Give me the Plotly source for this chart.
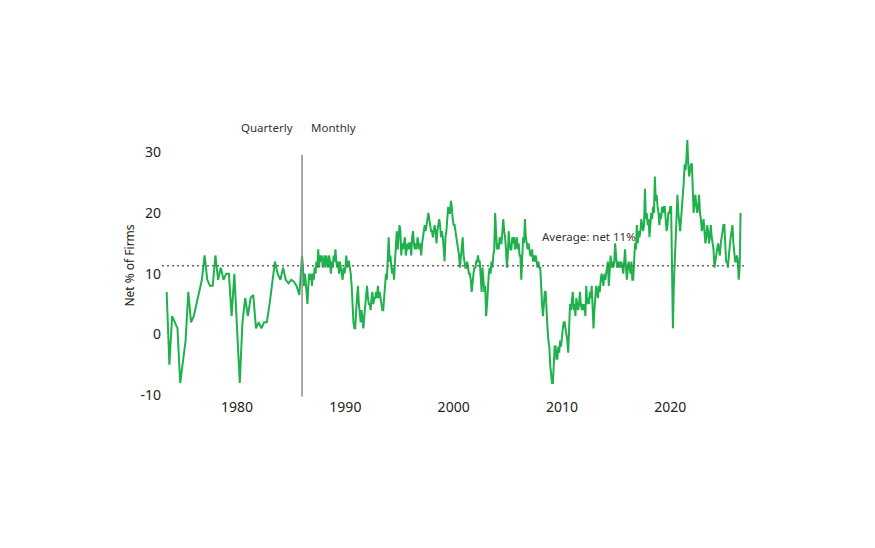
import pandas as pd
import plotly.graph_objects as go

# quarterly survey, Q3 1973 .. Q4 1985 (net % of firms)
QUARTERLY = [7, -5, 3, 2, 1, -8, -4, -1, 7, 2,
             3, 5, 7, 9, 13, 9, 8, 8, 13, 9,
             11, 9, 10, 10, 3, 10, 1, -8, 2, 6,
             3, 6, 6.5, 1, 2, 1, 2, 2, 5, 9,
             12, 10, 9, 11, 9, 8.4, 9, 8.7, 8, 6.5]

# monthly survey from Jan 1986, one row per year
MONTHLY_1986_1995 = [
    13, 11, 8, 10, 9, 7, 5, 8, 10, 9, 10, 8,
    10, 9, 11, 10, 12, 11, 14, 11, 13, 12, 13, 11,
    12, 13, 11, 13, 12, 11, 13, 12, 10, 12, 11, 13,
    12, 14, 12, 11, 12, 10, 12, 11, 10, 9, 11, 10,
    11, 13, 11, 12, 12, 11, 10, 8, 4, 2, 1, 1,
    4, 6, 8, 5, 3, 2, 4, 2, 1, 3, 5, 6,
    8, 6, 5, 5, 4, 6, 7, 5, 6, 6, 7, 6,
    8, 6, 7, 6, 5, 4, 4, 6, 8, 10, 9, 12,
    16, 12, 13, 11, 10, 11, 9, 12, 14, 17, 14, 16,
    18, 17, 13, 15, 14, 15, 16, 13, 14, 15, 14, 15,
]
MONTHLY_1996_2005 = [
    15, 13, 16, 17, 15, 14, 15, 14, 16, 15, 14, 15,
    13, 15, 16, 17, 18, 17, 18, 19, 20, 19, 18, 17,
    17, 16, 17, 18, 17, 15, 17, 18, 19, 18, 16, 17,
    16, 14, 12, 16, 17, 19, 21, 20, 20, 22, 21, 19,
    18, 18, 17, 16, 15, 14, 13, 11, 13, 14, 16, 13,
    12, 11, 11, 12, 11, 10, 10, 9, 7, 9, 10, 11,
    11, 12, 12, 13, 12, 12, 9, 7, 11, 9, 7, 8,
    3, 5, 8, 10, 11, 10, 12, 11, 13, 14, 20, 15,
    14, 15, 14, 16, 15, 15, 17, 19, 17, 16, 14, 11,
    13, 17, 15, 14, 14, 16, 15, 16, 14, 15, 16, 14,
]
MONTHLY_2006_2015 = [
    15, 13, 13, 9, 13, 16, 15, 19, 16, 15, 14, 15,
    14, 13, 13, 14, 12, 13, 12, 13, 12, 11, 12, 11,
    11, 7, 5, 3, 5, 7, 7, 3, 1, -1, -2, -5,
    -7, -8, -8, -3, -2, -2, -4, -4, -2, -3, -1, -2,
    0, 1, 2, 2, 1, 0, -1, -3, 3, 5, 4, 6,
    7, 4, 5, 3, 6, 5, 4, 5, 7, 5, 4, 5,
    4, 5, 3, 8, 5, 6, 5, 7, 6, 8, 4, 1,
    4, 6, 8, 7, 6, 8, 7, 9, 10, 9, 8, 10,
    9, 10, 11, 12, 8, 11, 13, 11, 12, 11, 12, 15,
    13, 11, 12, 11, 12, 11, 12, 11, 10, 12, 14, 11,
]
MONTHLY_2016_2026 = [
    9, 11, 12, 11, 10, 12, 9, 9, 12, 15, 14, 18,
    15, 17, 16, 17, 19, 18, 17, 18, 24, 19, 20, 18,
    19, 16, 19, 20, 19, 21, 20, 26, 22, 23, 21, 20,
    18, 20, 19, 21, 20, 21, 21, 19, 17, 18, 20, 20,
    21, 21, 14, 1, 8, 12, 17, 21, 23, 20, 18, 17,
    19, 21, 22, 25, 28, 27, 29, 32, 28, 26, 27, 28,
    28, 24, 20, 22, 23, 21, 20, 21, 23, 20, 19, 17,
    18, 19, 17, 15, 16, 18, 17, 15, 16, 18, 16, 15,
    14, 11, 12, 13, 14, 15, 14, 13, 15, 16, 17, 18,
    18, 15, 12, 12, 11, 13, 15, 16, 17, 18, 15, 13,
    12, 12, 13, 12, 9, 11, 20,
]

AVERAGE = 11.3
SWITCH_DATE = "1986-01-01"
YEAR_TICKS = [1980, 1990, 2000, 2010, 2020]
Y_TICKS = [-10, 0, 10, 20, 30]

monthly = MONTHLY_1986_1995 + MONTHLY_1996_2005 + MONTHLY_2006_2015 + MONTHLY_2016_2026
q_dates = pd.date_range("1973-07-01", periods=len(QUARTERLY), freq="QS")
m_dates = pd.date_range(SWITCH_DATE, periods=len(monthly), freq="MS")
dates = list(q_dates) + list(m_dates)
values = QUARTERLY + monthly

FONT = "Noto Sans, Open Sans, sans-serif"

fig = go.Figure()
fig.add_trace(go.Scatter(x=dates, y=values, mode="lines",
                         line=dict(color="#1fb14c", width=2), showlegend=False))

# long-run average, dotted across the plot
fig.add_shape(type="line", xref="paper", x0=0, x1=1, y0=AVERAGE, y1=AVERAGE,
              line=dict(color="#666666", width=1.5, dash="2px,3px"))
# quarterly -> monthly break
fig.add_shape(type="line", x0=SWITCH_DATE, x1=SWITCH_DATE, y0=-10.2, y1=29.6,
              line=dict(color="#8c8c8c", width=1.5))

fig.add_annotation(x=SWITCH_DATE, y=1.023, yref="paper", yanchor="middle", text="Quarterly",
                   showarrow=False, xanchor="right", xshift=-7,
                   font=dict(size=11.5, color="#333333"))
fig.add_annotation(x=SWITCH_DATE, y=1.023, yref="paper", yanchor="middle", text="Monthly",
                   showarrow=False, xanchor="left", xshift=7,
                   font=dict(size=11.5, color="#333333"))
fig.add_annotation(x="2008-01-01", y=16.2, text="Average: net 11%", showarrow=False,
                   xanchor="left", yanchor="middle", font=dict(size=11.5, color="#333333"))

fig.update_layout(
    width=875, height=548,
    margin=dict(l=154, r=139, t=126, b=159),
    paper_bgcolor="white", plot_bgcolor="white",
    font=dict(family=FONT, color="#222222"),
    xaxis=dict(range=["1973-01-25", "2026-10-25"], showgrid=False, zeroline=False,
               showline=False, ticks="",
               tickvals=[f"{y}-01-01" for y in YEAR_TICKS],
               ticktext=[str(y) for y in YEAR_TICKS],
               tickfont=dict(size=14)),
    yaxis=dict(range=[-10.3, 33], showgrid=False, zeroline=False, showline=False,
               ticks="", tickvals=Y_TICKS, ticktext=[str(v) for v in Y_TICKS],
               tickfont=dict(size=14),
               title=dict(text="Net % of Firms", font=dict(size=12), standoff=3)),
)

fig.write_html("out.html")
